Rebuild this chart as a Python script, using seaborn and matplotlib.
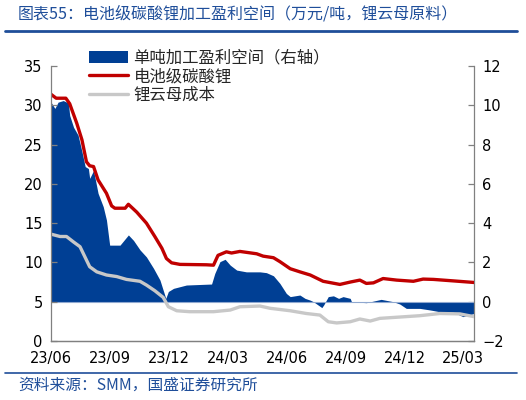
import numpy as np
import pandas as pd
import seaborn as sns
import matplotlib.pyplot as plt
import matplotlib.dates as mdates
from matplotlib.lines import Line2D
from matplotlib.patches import Patch

# 电池级碳酸锂价格 (万元/吨), 左轴
red_days = [0, 8, 23, 29, 40, 48, 55, 60, 66, 73, 86, 94, 99, 115, 120, 133, 148, 161,
            172, 179, 187, 200, 241, 252, 259, 272, 280, 293, 319, 329, 345, 355, 371,
            386, 402, 422, 448, 464, 479, 489, 500, 515, 536, 562, 577, 593, 624, 656]
red_vals = [31.4, 30.9, 30.9, 30.2, 27.7, 25.6, 22.8, 22.3, 22.2, 20.5, 18.8, 17.2, 16.9,
            16.9, 17.4, 16.4, 15.0, 13.3, 11.8, 10.5, 9.95, 9.75, 9.7, 9.65, 10.9, 11.35,
            11.2, 11.4, 11.1, 10.8, 10.6, 10.1, 9.2, 8.8, 8.4, 7.6, 7.2, 7.5, 7.75, 7.33,
            7.4, 7.95, 7.75, 7.6, 7.88, 7.84, 7.65, 7.45]

# 锂云母成本 (万元/吨), 左轴
gray_days = [0, 14, 24, 35, 45, 50, 60, 71, 86, 102, 117, 138, 148, 161, 174, 182, 195,
             215, 252, 278, 293, 324, 340, 371, 396, 417, 430, 443, 464, 479, 495, 510,
             541, 572, 603, 634, 656]
gray_vals = [13.6, 13.3, 13.3, 12.6, 12.0, 11.15, 9.45, 8.8, 8.4, 8.2, 7.84, 7.6, 7.12,
             6.4, 5.55, 4.36, 3.85, 3.73, 3.73, 3.94, 4.36, 4.45, 4.16, 3.85, 3.5, 3.3,
             2.45, 2.3, 2.45, 2.8, 2.54, 2.88, 3.05, 3.22, 3.5, 3.45, 3.1]

# 单吨加工盈利空间 (万元/吨), 右轴
blue_days = [0, 6, 11, 19, 27, 29, 35, 42, 48, 53, 58, 60, 66, 73, 81, 86, 91, 107, 120,
             128, 138, 148, 159, 169, 178, 182, 190, 210, 249, 254, 262, 270, 278, 288,
             303, 324, 334, 345, 355, 365, 371, 386, 394, 402, 407, 420, 423, 430, 438,
             446, 453, 464, 466, 489, 512, 531, 541, 551, 572, 588, 603, 624, 639, 656]
blue_vals = [10.16, 9.84, 10.16, 10.24, 10.12, 9.48, 8.88, 8.48, 7.64, 6.88, 6.78, 6.28,
             6.68, 5.52, 4.84, 4.16, 2.88, 2.88, 3.4, 3.12, 2.64, 2.28, 1.7, 1.1, 0.17,
             0.52, 0.68, 0.85, 0.9, 1.44, 2.04, 2.16, 1.86, 1.61, 1.52, 1.52, 1.48, 1.32,
             0.93, 0.42, 0.26, 0.34, 0.17, 0.08, 0.0, -0.3, -0.16, 0.26, 0.3, 0.17, 0.26,
             0.17, 0.0, -0.05, 0.12, 0.0, -0.12, -0.34, -0.34, -0.42, -0.51, -0.54, -0.76,
             -0.6]

start = pd.Timestamp("2023-06-01")
red = pd.DataFrame({"date": start + pd.to_timedelta(red_days, unit="D"), "value": red_vals})
gray = pd.DataFrame({"date": start + pd.to_timedelta(gray_days, unit="D"), "value": gray_vals})
blue = pd.DataFrame({"date": start + pd.to_timedelta(blue_days, unit="D"), "value": blue_vals})

tick_dates = pd.date_range("2023-06-01", "2025-03-01", freq="3MS")

sns.set_style("white")
plt.rcParams["font.family"] = ["DejaVu Sans", "Noto Sans CJK SC"]
cjk = ["Noto Sans CJK SC", "DejaVu Sans"]

c_blue = "#003F94"
c_red = "#C00000"
c_gray = "#C8C8C8"
c_text = "#1F4E9A"

fig = plt.figure(figsize=(5.26, 4.0), dpi=100)
ax = fig.add_axes([51 / 526, 59 / 400, 423 / 526, 275 / 400])
ax2 = ax.twinx()

ax2.fill_between(blue["date"], 0, blue["value"], color=c_blue, linewidth=0)
ax2.axhline(0, color="#8FA8D0", linewidth=0.8)

sns.lineplot(data=gray, x="date", y="value", ax=ax, color=c_gray, linewidth=2.4)
sns.lineplot(data=red, x="date", y="value", ax=ax, color=c_red, linewidth=2.4)

ax.set_zorder(ax2.get_zorder() + 1)
ax.patch.set_visible(False)

ax.set_xlim(start, start + pd.Timedelta(days=656))
ax.set_ylim(0, 35)
ax2.set_ylim(-2, 12)
ax.set_yticks(range(0, 36, 5))
ax2.set_yticks(range(-2, 13, 2))
ax.set_xticks(tick_dates)
ax.xaxis.set_major_formatter(mdates.DateFormatter("%y/%m"))
ax.set_xlabel("")
ax.set_ylabel("")

for a in (ax, ax2):
    for s in a.spines.values():
        s.set_color("#808080")
        s.set_linewidth(0.9)
    a.spines["top"].set_visible(False)
    a.tick_params(direction="in", length=4, width=0.9, color="#808080",
                  labelsize=10.5, labelcolor="black", pad=6)
ax.spines["right"].set_visible(False)
ax2.spines["left"].set_visible(False)
ax.tick_params(axis="x", pad=7)

handles = [Patch(facecolor=c_blue, edgecolor="none"),
           Line2D([], [], color=c_red, linewidth=2.4),
           Line2D([], [], color=c_gray, linewidth=2.4)]
labels = ["单吨加工盈利空间（右轴）", "电池级碳酸锂", "锂云母成本"]
fig.legend(handles, labels, loc="upper left", bbox_to_anchor=(82 / 526, 1 - 43 / 400),
           frameon=False, prop={"family": cjk, "size": 11.8}, handlelength=2.4,
           handletextpad=0.35, labelspacing=0.1, borderaxespad=0)

fig.text(18 / 526, 1 - 14 / 400, "图表55：电池级碳酸锂加工盈利空间（万元/吨，锂云母原料）",
         family=cjk, fontsize=11.5, color=c_text, va="center", style="italic")
fig.text(18 / 526, 1 - 385 / 400, "资料来源：SMM，国盛证券研究所",
         family=cjk, fontsize=11.3, color=c_text, va="center", style="italic")
fig.add_artist(Line2D([5 / 526, 517 / 526], [1 - 31 / 400, 1 - 31 / 400],
                      color="#1F4E99", linewidth=2))
fig.add_artist(Line2D([5 / 526, 517 / 526], [1 - 373 / 400, 1 - 373 / 400],
                      color="#1F4E99", linewidth=1.2))

fig.savefig("out.png", dpi=100)
